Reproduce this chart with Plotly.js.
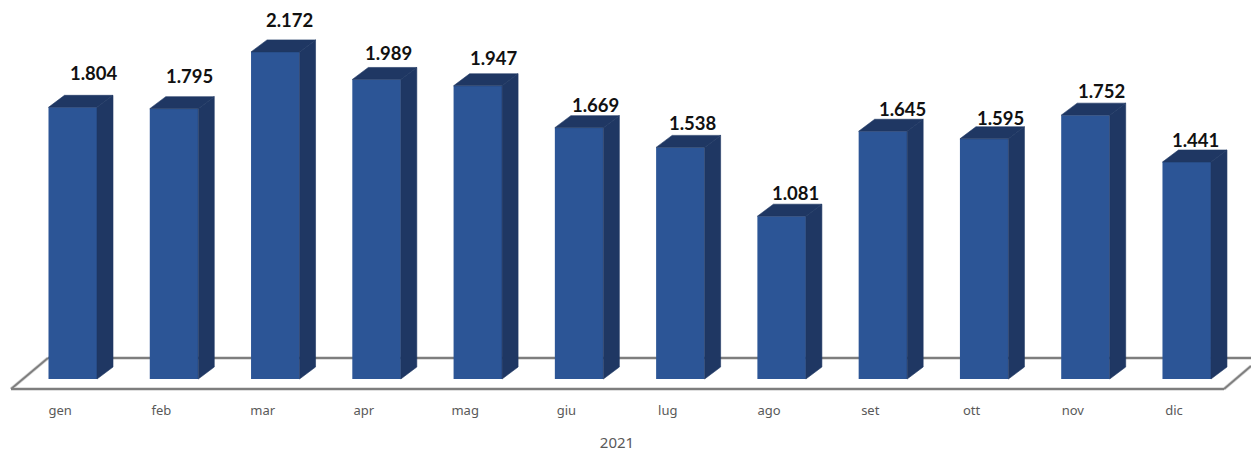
<!DOCTYPE html>
<html>
<head>
<meta charset="utf-8">
<script src="https://cdn.plot.ly/plotly-3.0.1.min.js"></script>
<style>html,body{margin:0;padding:0;background:#fff;overflow:hidden}#chart{width:1251px;height:452px}</style>
</head>
<body>
<div id="chart"></div>
<script>
const months = ["gen","feb","mar","apr","mag","giu","lug","ago","set","ott","nov","dic"];
const values = [1804,1795,2172,1989,1947,1669,1538,1081,1645,1595,1752,1441];
const xAxisTitle = "2021";

// label nudges in pixels, relative to each bar's top centre
const nudgeX = [22,16,15,12,17,17,13,14.5,20,17,17,9];
const nudgeY = [34,33,32,26,28,23,24,23,22,21,24,22];

const W = 1251, H = 452, plotW = 1234, plotBottom = 395;
const baseY = 379, firstX = 72.75, stepX = 101.27, pxPerUnit = 0.1506;
const barPx = 48.5, depthXpx = 16, depthYpx = 12;

const idx = months.map((_, i) => i);
const barW = barPx / stepX, dx = depthXpx / stepX, dy = depthYpx / pxPerUnit;

const sideX = [], sideY = [], topX = [], topY = [];
values.forEach((v, i) => {
  const l = i - barW / 2, r = i + barW / 2;
  sideX.push(r, r + dx, r + dx, r, r, null);
  sideY.push(0, dy, v + dy, v, 0, null);
  topX.push(l, l + dx, r + dx, r, l, null);
  topY.push(v, v + dy, v + dy, v, v, null);
});

const darkFace = "#1F3763";
const front = { type: "bar", x: idx, y: values, width: barW,
  marker: { color: "#2C5596", line: { width: 0 } }, hoverinfo: "y", showlegend: false };
const topFace = { type: "scatter", mode: "lines", x: topX, y: topY, fill: "toself",
  fillcolor: darkFace, line: { width: 0.6, color: darkFace }, hoverinfo: "skip", showlegend: false };
const side = { type: "scatter", mode: "lines", x: sideX, y: sideY, fill: "toself",
  fillcolor: darkFace, line: { width: 0.6, color: darkFace }, hoverinfo: "skip", showlegend: false };

const py = p => (baseY - p) / pxPerUnit;
const px = p => p / plotW;
function floorLine(x0, y0, x1, y1, color, width) {
  return { type: "line", layer: "below", xref: "paper", yref: "y",
    x0: px(x0), x1: px(x1), y0: py(y0), y1: py(y1), line: { color, width } };
}
const floorSegs = [[11,389,1224,389],[11,389,48,358],[48,358,1251,358],[1224,389,1251,366]];
const shapes = [
  ...floorSegs.map(s => floorLine(s[0], s[1], s[2], s[3], "#D4D4D4", 3.5)),
  ...floorSegs.map(s => floorLine(s[0], s[1], s[2], s[3], "#7E7E7E", 1.8))
];

const annotations = values.map((v, i) => ({
  x: i, y: v, xref: "x", yref: "y", showarrow: false,
  text: (v / 1000).toFixed(3), xshift: nudgeX[i] - 0.5, yshift: nudgeY[i],
  font: { family: "Lato, sans-serif", size: 18.5, color: "#111111", weight: 700 },
  xanchor: "center", yanchor: "middle"
}));

const layout = {
  width: W, height: H,
  margin: { l: 0, r: W - plotW, t: 0, b: H - plotBottom, pad: 0 },
  paper_bgcolor: "#fff", plot_bgcolor: "rgba(0,0,0,0)",
  showlegend: false, barmode: "overlay",
  xaxis: {
    range: [-firstX / stepX, (plotW - firstX) / stepX],
    tickmode: "array", tickvals: idx.map(i => i - 0.125), ticktext: months,
    ticks: "", showline: false, showgrid: false, zeroline: false,
    ticklabelstandoff: 6,
    tickfont: { family: "'Noto Sans', sans-serif", size: 13, color: "#595959" },
    title: { text: xAxisTitle, standoff: 20,
      font: { family: "'Noto Sans', sans-serif", size: 15, color: "#595959" } }
  },
  yaxis: {
    range: [py(plotBottom), py(0)], visible: false, showgrid: false, zeroline: false
  },
  shapes, annotations
};

Plotly.newPlot("chart", [front, topFace, side], layout, { displayModeBar: false, staticPlot: true });
</script>
</body>
</html>
